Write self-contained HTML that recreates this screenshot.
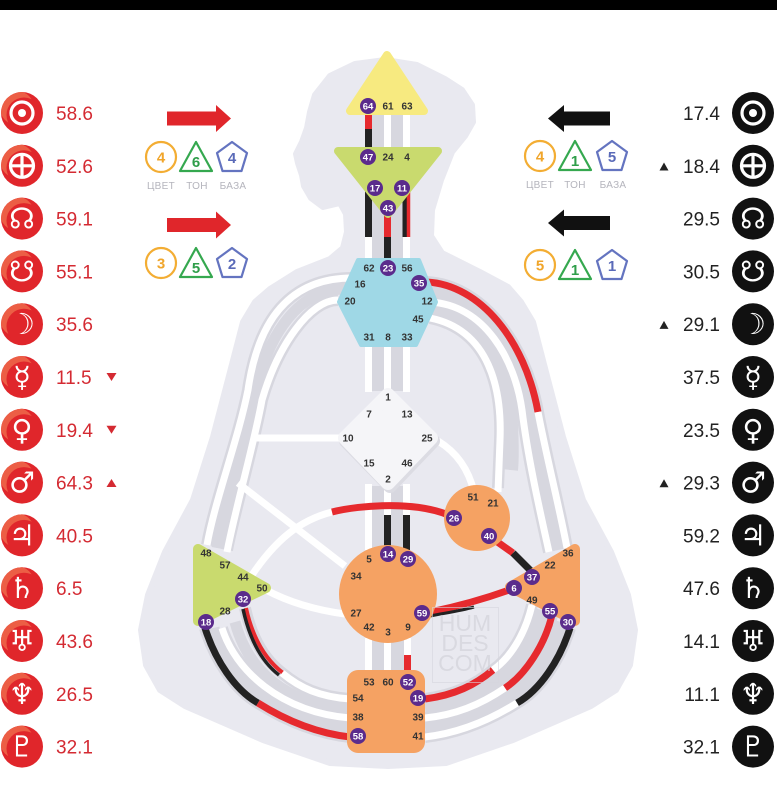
<!DOCTYPE html>
<html><head><meta charset="utf-8">
<style>
html,body{margin:0;padding:0;background:#fff;}
svg{display:block;}
text{font-family:"Liberation Sans","DejaVu Sans",sans-serif;}
.g{font-size:10px;font-weight:bold;fill:#333;text-anchor:middle;}
.gp{font-size:9.5px;font-weight:bold;fill:#fff;text-anchor:middle;}
.pl{font-size:19px;fill:#d42a32;}
.pr{font-size:19px;fill:#222;text-anchor:end;}
.sym{font-family:"DejaVu Sans",sans-serif;font-size:29px;fill:#fff;text-anchor:middle;}
.lab{font-size:10px;fill:#b4b4bc;text-anchor:middle;letter-spacing:0.3px;}
.n{font-size:15px;text-anchor:middle;font-weight:bold;}
</style></head><body>
<svg width="777" height="800" viewBox="0 0 777 800" xmlns="http://www.w3.org/2000/svg">
<defs>
<clipPath id="cc"><circle cx="0" cy="0" r="21"/></clipPath>
<g id="rc">
<circle r="21" fill="#e0262b"/>
<g clip-path="url(#cc)">
<circle cx="-5" cy="-5" r="17" fill="#ec5e45"/>
<circle cx="2" cy="2" r="17.5" fill="#e0262b"/>
</g>
</g>
</defs>
<rect width="777" height="800" fill="#fff"/>
<rect width="777" height="10" fill="#000"/>

<!-- silhouette -->
<path d="M388,766 L330,763 L263,740 L185,706 L160,690 L146,665 L141,630 L148,595 L165,552 L193,500 L213,437 L230,372 L243,322 L255,302 L270,289 L297,272 L330,259 L343,248 L347,232 L346,214 L340,203 L323,207 L311,198 L304,186 L302,175 L298,163 L296,154 L302,142 L307,128 L310,112 L315,95 L330,76 L355,64 L385,60 L417,65 L445,79 L462,90 L472,105 L473,122 L465,136 L452,152 L441,180 L432,210 L431,236 L442,253 L480,272 L508,287 L521,302 L533,322 L546,372 L563,437 L583,500 L611,552 L628,595 L635,630 L630,665 L616,690 L591,706 L513,740 L446,763 Z" fill="#e9e9f0" stroke="#e9e9f0" stroke-width="6" stroke-linejoin="round"/>

<!-- gray bands -->
<g fill="none" stroke="#d7d7df" stroke-linecap="butt">
<rect x="372" y="115" width="31" height="33" fill="#d7d7df" stroke="none"/>
<rect x="372" y="180" width="31" height="80" fill="#d7d7df" stroke="none"/>
<rect x="372" y="345" width="31" height="46" fill="#d7d7df" stroke="none"/>
<rect x="372" y="486" width="31" height="62" fill="#d7d7df" stroke="none"/>
<rect x="372" y="640" width="32" height="34" fill="#d7d7df" stroke="none"/>
<g stroke-width="12">
<path d="M430,318 C490,330 502,390 500,440 L498,488"/>
<path d="M430,302 C485,305 515,360 522,410 C528,460 542,520 549,552"/>
<path d="M427,282 C480,285 525,340 538,412 C545,450 560,510 567,548"/>
<path d="M352,278 C290,278 258,320 248,390 C238,440 215,500 207,545"/>
<path d="M338,300 C310,300 278,345 262,400 C255,440 235,510 227,550"/>
<path d="M205,628 C215,660 235,690 258,703 C285,720 315,733 350,737"/>
<path d="M222,628 C235,670 280,712 350,718"/>
<path d="M245,608 C252,640 265,660 282,673 C300,688 320,697 350,699"/>
<path d="M570,628 C560,660 540,690 517,703 C490,720 460,733 425,737"/>
<path d="M552,615 C545,645 525,675 505,688 C480,705 455,715 425,718"/>
<path d="M532,605 C525,635 510,658 493,670 C475,685 455,695 425,699"/>
</g>
<path d="M430,310 C487,317 508,375 511,425 C512,445 512,460 511,470" stroke-width="14"/>
<path d="M428,292 C482,295 520,350 530,411 C536,455 551,515 558,550" stroke-width="11"/>
<path d="M345,289 C300,289 268,332 255,395 C246,440 225,505 217,548" stroke-width="11"/>
<path d="M213,628 C222,668 255,705 350,727" stroke-width="13"/>
<path d="M235,622 C248,670 285,705 350,708" stroke-width="11"/>
<path d="M561,622 C552,652 532,683 511,696 C485,713 457,724 425,727" stroke-width="13"/>
<path d="M542,610 C535,640 517,667 499,679 C477,695 455,705 425,708" stroke-width="11"/>
</g>

<!-- channels -->
<g fill="none" stroke-width="7" stroke-linecap="butt">
<line x1="368.5" y1="112" x2="368.5" y2="129" stroke="#e62a2e"/>
<line x1="368.5" y1="129" x2="368.5" y2="150" stroke="#222"/>
<line x1="387.5" y1="112" x2="387.5" y2="150" stroke="#fff"/>
<line x1="406.5" y1="112" x2="406.5" y2="150" stroke="#fff"/>
<line x1="368.5" y1="180" x2="368.5" y2="237" stroke="#222"/>
<line x1="368.5" y1="237" x2="368.5" y2="262" stroke="#fff"/>
<line x1="387.5" y1="210" x2="387.5" y2="237" stroke="#e62a2e"/>
<line x1="387.5" y1="237" x2="387.5" y2="262" stroke="#222"/>
<line x1="406" y1="180" x2="406" y2="237" stroke="#222"/>
<line x1="408.5" y1="180" x2="408.5" y2="237" stroke="#e62a2e" stroke-width="3.5"/>
<line x1="406.5" y1="237" x2="406.5" y2="262" stroke="#fff"/>
<line x1="368.5" y1="342" x2="368.5" y2="392" stroke="#fff"/>
<line x1="387.5" y1="342" x2="387.5" y2="392" stroke="#fff"/>
<line x1="406.5" y1="342" x2="406.5" y2="392" stroke="#fff"/>
<line x1="368.5" y1="484" x2="368.5" y2="550" stroke="#fff"/>
<line x1="387.5" y1="488" x2="387.5" y2="515" stroke="#fff"/>
<line x1="387.5" y1="515" x2="387.5" y2="550" stroke="#222"/>
<line x1="406.5" y1="484" x2="406.5" y2="515" stroke="#fff"/>
<line x1="406.5" y1="515" x2="406.5" y2="550" stroke="#222"/>
<line x1="368.5" y1="638" x2="368.5" y2="674" stroke="#fff"/>
<line x1="387.5" y1="638" x2="387.5" y2="674" stroke="#fff"/>
<line x1="407.5" y1="638" x2="407.5" y2="655" stroke="#fff"/>
<line x1="407.5" y1="655" x2="407.5" y2="674" stroke="#e62a2e"/>

<path d="M430,318 C490,330 502,390 500,440 L498,492" stroke="#fff"/>
<path d="M430,302 C485,305 515,360 522,410 C528,460 542,520 549,552" stroke="#fff"/>
<path d="M427,282 C480,285 525,340 538,412" stroke="#e62a2e"/>
<path d="M538,412 C545,450 560,510 567,548" stroke="#fff"/>
<path d="M438,441 Q466,458 474,492" stroke="#fff"/>

<path d="M352,278 C290,278 258,320 248,390 C238,440 215,500 207,545" stroke="#fff"/>
<path d="M338,300 C310,300 278,345 262,400 C255,440 235,510 227,552" stroke="#fff"/>
<line x1="252" y1="438" x2="342" y2="438" stroke="#fff"/>
<line x1="238" y1="483" x2="345" y2="566" stroke="#fff"/>
<path d="M250,578 C275,540 300,520 332,512" stroke="#fff"/>
<path d="M332,512 C360,505 420,500 455,518" stroke="#e62a2e"/>
<path d="M266,590 Q300,608 345,614" stroke="#fff"/>

<path d="M205,628 C215,660 235,690 258,703" stroke="#222"/>
<path d="M258,703 C285,720 315,733 350,737" stroke="#e62a2e"/>
<path d="M222,628 C235,670 280,712 350,718" stroke="#fff"/>
<path d="M246,608 C253,640 266,660 283,673" stroke="#e62a2e" stroke-width="4"/>
<path d="M243,609 C250,641 262,662 279,675" stroke="#222" stroke-width="3.5"/>
<path d="M282,673 C300,688 320,697 350,699" stroke="#fff"/>

<path d="M570,628 C560,660 540,690 517,703" stroke="#222"/>
<path d="M517,703 C490,720 460,733 425,737" stroke="#fff"/>
<path d="M552,615 C545,645 525,675 505,688" stroke="#e62a2e"/>
<path d="M505,688 C480,705 455,715 425,718" stroke="#fff"/>
<path d="M532,605 C525,635 510,658 493,670" stroke="#fff"/>
<path d="M493,670 C475,685 455,695 425,699" stroke="#e62a2e"/>

<line x1="489" y1="536" x2="513" y2="553" stroke="#e62a2e"/>
<line x1="513" y1="553" x2="532" y2="572" stroke="#222"/>
<path d="M430,612 C460,606 490,597 512,589" stroke="#e62a2e"/>
<path d="M430,616 C445,613 460,611 474,607" stroke="#222" stroke-width="3"/>
</g>

<!-- centers -->
<polygon points="387,55 350,111 424,111" fill="#f7ea80" stroke="#f7ea80" stroke-width="8" stroke-linejoin="round"/>
<polygon points="338,151 438,151 388,214" fill="#c9da6e" stroke="#c9da6e" stroke-width="8" stroke-linejoin="round"/>
<polygon points="358,260 419,260 436,302 416,345 361,345 339,302" fill="#9fd8e6" stroke="#9fd8e6" stroke-width="4" stroke-linejoin="round"/>
<polygon points="390,398 433,441 390,486 346,441" fill="#dcdce3" stroke="#dcdce3" stroke-width="14" stroke-linejoin="round"/>
<polygon points="388,395 431,438 388,483 345,438" fill="#f5f5f8" stroke="#f5f5f8" stroke-width="14" stroke-linejoin="round"/>
<circle cx="477" cy="518" r="33" fill="#f5a263"/>
<circle cx="388" cy="594" r="49" fill="#f5a263"/>
<polygon points="198,549 198,621 266,588" fill="#c9da6e" stroke="#c9da6e" stroke-width="10" stroke-linejoin="round"/>
<polygon points="575,549 575,621 510,587" fill="#f5a263" stroke="#f5a263" stroke-width="10" stroke-linejoin="round"/>
<rect x="347" y="670" width="78" height="83" rx="11" fill="#f5a263"/>

<g fill="#5b2b8c">
<circle cx="368" cy="106" r="8"/>
<circle cx="368" cy="157" r="8"/>
<circle cx="375" cy="188" r="8"/>
<circle cx="402" cy="188" r="8"/>
<circle cx="388" cy="208" r="8"/>
<circle cx="388" cy="268" r="8"/>
<circle cx="419" cy="283" r="8"/>
<circle cx="454" cy="518" r="8"/>
<circle cx="489" cy="536" r="8"/>
<circle cx="388" cy="554" r="8"/>
<circle cx="408" cy="559" r="8"/>
<circle cx="422" cy="613" r="8"/>
<circle cx="243" cy="599" r="8"/>
<circle cx="206" cy="622" r="8"/>
<circle cx="532" cy="577" r="8"/>
<circle cx="514" cy="588" r="8"/>
<circle cx="550" cy="611" r="8"/>
<circle cx="568" cy="622" r="8"/>
<circle cx="408" cy="682" r="8"/>
<circle cx="418" cy="698" r="8"/>
<circle cx="358" cy="736" r="8"/>
</g>
<g>
<text x="368" y="109.5" class="gp">64</text>
<text x="368" y="160.5" class="gp">47</text>
<text x="375" y="191.5" class="gp">17</text>
<text x="402" y="191.5" class="gp">11</text>
<text x="388" y="211.5" class="gp">43</text>
<text x="388" y="271.5" class="gp">23</text>
<text x="419" y="286.5" class="gp">35</text>
<text x="454" y="521.5" class="gp">26</text>
<text x="489" y="539.5" class="gp">40</text>
<text x="388" y="557.5" class="gp">14</text>
<text x="408" y="562.5" class="gp">29</text>
<text x="422" y="616.5" class="gp">59</text>
<text x="243" y="602.5" class="gp">32</text>
<text x="206" y="625.5" class="gp">18</text>
<text x="532" y="580.5" class="gp">37</text>
<text x="514" y="591.5" class="gp">6</text>
<text x="550" y="614.5" class="gp">55</text>
<text x="568" y="625.5" class="gp">30</text>
<text x="408" y="685.5" class="gp">52</text>
<text x="418" y="701.5" class="gp">19</text>
<text x="358" y="739.5" class="gp">58</text>
</g>
<g>
<text x="388" y="109.5" class="g">61</text>
<text x="407" y="109.5" class="g">63</text>
<text x="388" y="160.5" class="g">24</text>
<text x="407" y="160.5" class="g">4</text>
<text x="369" y="271.5" class="g">62</text>
<text x="407" y="271.5" class="g">56</text>
<text x="360" y="287.5" class="g">16</text>
<text x="350" y="304.5" class="g">20</text>
<text x="427" y="304.5" class="g">12</text>
<text x="418" y="322.5" class="g">45</text>
<text x="369" y="340.5" class="g">31</text>
<text x="388" y="340.5" class="g">8</text>
<text x="407" y="340.5" class="g">33</text>
<text x="388" y="400.5" class="g">1</text>
<text x="369" y="417.5" class="g">7</text>
<text x="407" y="417.5" class="g">13</text>
<text x="348" y="441.5" class="g">10</text>
<text x="427" y="441.5" class="g">25</text>
<text x="369" y="466.5" class="g">15</text>
<text x="407" y="466.5" class="g">46</text>
<text x="388" y="482.5" class="g">2</text>
<text x="473" y="500.5" class="g">51</text>
<text x="493" y="506.5" class="g">21</text>
<text x="369" y="562.5" class="g">5</text>
<text x="356" y="579.5" class="g">34</text>
<text x="356" y="616.5" class="g">27</text>
<text x="369" y="630.5" class="g">42</text>
<text x="388" y="635.5" class="g">3</text>
<text x="408" y="630.5" class="g">9</text>
<text x="206" y="556.5" class="g">48</text>
<text x="225" y="568.5" class="g">57</text>
<text x="243" y="580.5" class="g">44</text>
<text x="262" y="591.5" class="g">50</text>
<text x="225" y="614.5" class="g">28</text>
<text x="568" y="556.5" class="g">36</text>
<text x="550" y="568.5" class="g">22</text>
<text x="532" y="603.5" class="g">49</text>
<text x="369" y="685.5" class="g">53</text>
<text x="388" y="685.5" class="g">60</text>
<text x="358" y="701.5" class="g">54</text>
<text x="358" y="720.5" class="g">38</text>
<text x="418" y="720.5" class="g">39</text>
<text x="418" y="739.5" class="g">41</text>
</g>

<g opacity="0.6">
<rect x="432.5" y="607.5" width="66" height="75" fill="none" stroke="#d6d6de" stroke-width="1"/>
<text x="465" y="631" font-size="23" fill="#cfcfd7" text-anchor="middle">HUM</text>
<text x="465" y="651" font-size="23" fill="#cfcfd7" text-anchor="middle">DES</text>
<text x="465" y="671" font-size="23" fill="#cfcfd7" text-anchor="middle">COM</text>
</g>

<rect x="167" y="111.5" width="51" height="14" fill="#e0262b"/>
<polygon points="216,105 231,118.5 216,132" fill="#e0262b"/>
<rect x="167" y="218" width="51" height="14" fill="#e0262b"/>
<polygon points="216,211.5 231,225 216,238.5" fill="#e0262b"/>
<rect x="562" y="111.5" width="48" height="14" fill="#111"/>
<polygon points="564,105 548,118.5 564,132" fill="#111"/>
<rect x="562" y="216" width="48" height="14" fill="#111"/>
<polygon points="564,209.5 548,223 564,236.5" fill="#111"/>

<g fill="none" stroke-width="2.2" stroke-linejoin="round">
<circle cx="161" cy="157" r="15" stroke="#f3ad33"/>
<polygon points="196,142 180,171 212,171" stroke="#35a84f"/>
<polygon points="232,142 247,153 241.5,171 222.5,171 217,153" stroke="#6474c0"/>
<circle cx="161" cy="263" r="15" stroke="#f3ad33"/>
<polygon points="196,248 180,277 212,277" stroke="#35a84f"/>
<polygon points="232,248 247,259 241.5,277 222.5,277 217,259" stroke="#6474c0"/>
<circle cx="540" cy="156" r="15" stroke="#f3ad33"/>
<polygon points="575,141 559,170 591,170" stroke="#35a84f"/>
<polygon points="612,141 627,152 621.5,170 602.5,170 597,152" stroke="#6474c0"/>
<circle cx="540" cy="265" r="15" stroke="#f3ad33"/>
<polygon points="575,250 559,279 591,279" stroke="#35a84f"/>
<polygon points="612,250 627,261 621.5,279 602.5,279 597,261" stroke="#6474c0"/>
</g>
<text x="161" y="162.5" class="n" fill="#f0a52a">4</text>
<text x="196" y="167" class="n" fill="#2f9e4a">6</text>
<text x="232" y="163" class="n" fill="#5a6ab8">4</text>
<text x="161" y="268.5" class="n" fill="#f0a52a">3</text>
<text x="196" y="273" class="n" fill="#2f9e4a">5</text>
<text x="232" y="269" class="n" fill="#5a6ab8">2</text>
<text x="540" y="161.5" class="n" fill="#f0a52a">4</text>
<text x="575" y="166" class="n" fill="#2f9e4a">1</text>
<text x="612" y="162" class="n" fill="#5a6ab8">5</text>
<text x="540" y="270.5" class="n" fill="#f0a52a">5</text>
<text x="575" y="275" class="n" fill="#2f9e4a">1</text>
<text x="612" y="271" class="n" fill="#5a6ab8">1</text>
<text x="161" y="189" class="lab">ЦВЕТ</text>
<text x="197" y="189" class="lab">ТОН</text>
<text x="233" y="189" class="lab">БАЗА</text>
<text x="540" y="188" class="lab">ЦВЕТ</text>
<text x="575" y="188" class="lab">ТОН</text>
<text x="613" y="188" class="lab">БАЗА</text>

<use href="#rc" x="22" y="113"/>
<use href="#rc" x="22" y="165.8"/>
<use href="#rc" x="22" y="218.6"/>
<use href="#rc" x="22" y="271.4"/>
<use href="#rc" x="22" y="324.2"/>
<use href="#rc" x="22" y="377"/>
<use href="#rc" x="22" y="429.8"/>
<use href="#rc" x="22" y="482.6"/>
<use href="#rc" x="22" y="535.4"/>
<use href="#rc" x="22" y="588.2"/>
<use href="#rc" x="22" y="641"/>
<use href="#rc" x="22" y="693.8"/>
<use href="#rc" x="22" y="746.6"/>
<g fill="#111">
<circle cx="753" cy="113" r="21"/>
<circle cx="753" cy="165.8" r="21"/>
<circle cx="753" cy="218.6" r="21"/>
<circle cx="753" cy="271.4" r="21"/>
<circle cx="753" cy="324.2" r="21"/>
<circle cx="753" cy="377" r="21"/>
<circle cx="753" cy="429.8" r="21"/>
<circle cx="753" cy="482.6" r="21"/>
<circle cx="753" cy="535.4" r="21"/>
<circle cx="753" cy="588.2" r="21"/>
<circle cx="753" cy="641" r="21"/>
<circle cx="753" cy="693.8" r="21"/>
<circle cx="753" cy="746.6" r="21"/>
</g>
<g fill="none" stroke="#fff" stroke-width="3.2">
<circle cx="22" cy="113" r="11"/>
<circle cx="753" cy="113" r="11"/>
<circle cx="22" cy="165.8" r="11.5"/>
<circle cx="753" cy="165.8" r="11.5"/>
<line x1="22" y1="154.3" x2="22" y2="177.3"/><line x1="10.5" y1="165.8" x2="33.5" y2="165.8"/>
<line x1="753" y1="154.3" x2="753" y2="177.3"/><line x1="741.5" y1="165.8" x2="764.5" y2="165.8"/>
</g>
<circle cx="22" cy="113" r="4" fill="#fff"/>
<circle cx="753" cy="113" r="4" fill="#fff"/>
<g>
<text x="22" y="228.6" class="sym">☊</text>
<text x="22" y="281.4" class="sym">☋</text>
<text x="22" y="334.2" class="sym">☽</text>
<text x="22" y="387" class="sym">☿</text>
<text x="22" y="439.8" class="sym">♀</text>
<text x="22" y="492.6" class="sym">♂</text>
<text x="22" y="545.4" class="sym">♃</text>
<text x="22" y="598.2" class="sym">♄</text>
<text x="22" y="651" class="sym">♅</text>
<text x="22" y="703.8" class="sym">♆</text>
<text x="22" y="756.6" class="sym">♇</text>
<text x="753" y="228.6" class="sym">☊</text>
<text x="753" y="281.4" class="sym">☋</text>
<text x="753" y="334.2" class="sym">☽</text>
<text x="753" y="387" class="sym">☿</text>
<text x="753" y="439.8" class="sym">♀</text>
<text x="753" y="492.6" class="sym">♂</text>
<text x="753" y="545.4" class="sym">♃</text>
<text x="753" y="598.2" class="sym">♄</text>
<text x="753" y="651" class="sym">♅</text>
<text x="753" y="703.8" class="sym">♆</text>
<text x="753" y="756.6" class="sym">♇</text>
</g>
<g>
<text x="56" y="120" class="pl">58.6</text>
<text x="56" y="172.8" class="pl">52.6</text>
<text x="56" y="225.6" class="pl">59.1</text>
<text x="56" y="278.4" class="pl">55.1</text>
<text x="56" y="331.2" class="pl">35.6</text>
<text x="56" y="384" class="pl">11.5</text>
<text x="56" y="436.8" class="pl">19.4</text>
<text x="56" y="489.6" class="pl">64.3</text>
<text x="56" y="542.4" class="pl">40.5</text>
<text x="56" y="595.2" class="pl">6.5</text>
<text x="56" y="648" class="pl">43.6</text>
<text x="56" y="700.8" class="pl">26.5</text>
<text x="56" y="753.6" class="pl">32.1</text>
</g>
<polygon points="106.5,373 116.5,373 111.5,381" fill="#d42a32"/>
<polygon points="106.5,425.8 116.5,425.8 111.5,433.8" fill="#d42a32"/>
<polygon points="106.5,487 116.5,487 111.5,479" fill="#d42a32"/>
<g>
<text x="720" y="120" class="pr">17.4</text>
<text x="720" y="172.8" class="pr">18.4</text>
<text x="720" y="225.6" class="pr">29.5</text>
<text x="720" y="278.4" class="pr">30.5</text>
<text x="720" y="331.2" class="pr">29.1</text>
<text x="720" y="384" class="pr">37.5</text>
<text x="720" y="436.8" class="pr">23.5</text>
<text x="720" y="489.6" class="pr">29.3</text>
<text x="720" y="542.4" class="pr">59.2</text>
<text x="720" y="595.2" class="pr">47.6</text>
<text x="720" y="648" class="pr">14.1</text>
<text x="720" y="700.8" class="pr">11.1</text>
<text x="720" y="753.6" class="pr">32.1</text>
</g>
<polygon points="659.5,170.5 668.5,170.5 664,162.5" fill="#222"/>
<polygon points="659.5,328.9 668.5,328.9 664,320.9" fill="#222"/>
<polygon points="659.5,487.3 668.5,487.3 664,479.3" fill="#222"/>
</svg>
</body></html>
